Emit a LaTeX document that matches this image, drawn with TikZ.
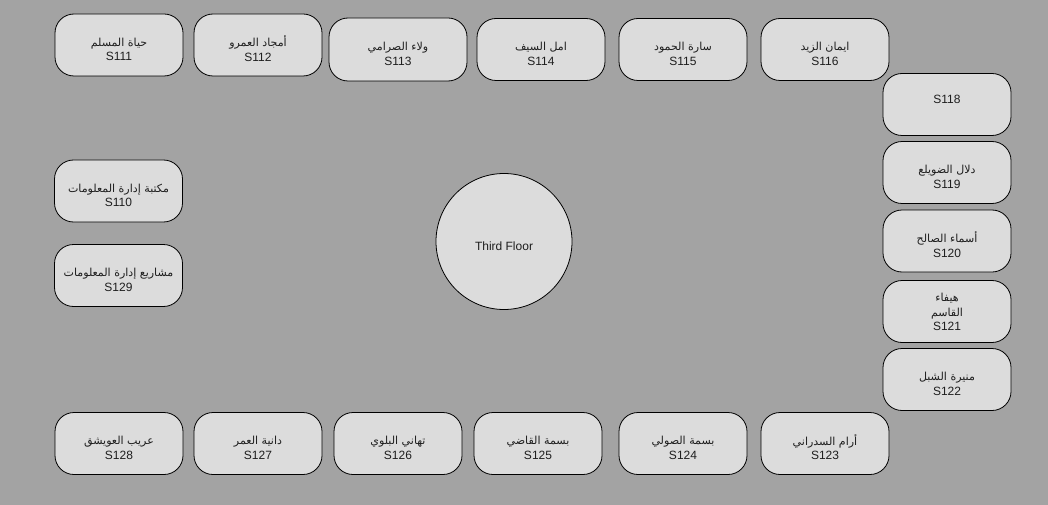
\documentclass[tikz,border=0pt]{standalone}
\usepackage{fontspec}
\setmainfont{Liberation Sans}
\newfontfamily\arabicfont[Script=Arabic,Scale=0.92]{DejaVu Sans}
\TeXXeTstate=1
\definecolor{bgcol}{RGB}{163,163,163}
\definecolor{roomfill}{RGB}{220,220,220}
\definecolor{txtcol}{RGB}{30,30,30}
\newcommand\ar[1]{{\arabicfont\beginR #1\endR}}
\newcommand\shifted[2]{\raisebox{#1}[\height][\depth]{\begin{tabular}{@{}c@{}}#2\end{tabular}}}
\newcommand\roomtxt[2]{\shifted{-5.5pt}{\ar{#1}\\#2}}
\tikzset{
  room/.style={draw=black, line width=0.8pt, fill=roomfill, rounded corners=19pt,
    minimum width=128pt, minimum height=62pt, inner sep=0pt, align=center,
    text=txtcol, font=\fontsize{12}{14.5}\selectfont},
  widebox/.style={room, minimum width=138pt, minimum height=63pt},
  hall/.style={draw=black, line width=0.8pt, fill=roomfill, circle,
    minimum size=136pt, inner sep=0pt, text=txtcol, font=\fontsize{12}{14}\selectfont}
}
\begin{document}
\begin{tikzpicture}[x=1pt,y=-1pt]
\fill[bgcol] (0,0) rectangle (1048,505);
\useasboundingbox (0,0) rectangle (1048,505);
% top row
\node[room] (s111) at (119,45) {\roomtxt{حياة المسلم}{S111}};
\node[room] (s112) at (258,45) {\roomtxt{أمجاد العمرو}{S112}};
\node[widebox] (s113) at (398,49.5) {\roomtxt{ولاء الصرامي}{S113}};
\node[room] (s114) at (541,49.5) {\roomtxt{امل السيف}{S114}};
\node[room] (s115) at (683,49.5) {\roomtxt{سارة الحمود}{S115}};
\node[room] (s116) at (825,49.5) {\roomtxt{ايمان الزيد}{S116}};
% right column
\node[room] (s118) at (947,104.5) {\shifted{4pt}{S118}};
\node[room] (s119) at (947,172.5) {\roomtxt{دلال الضويلع}{S119}};
\node[room] (s120) at (947,241) {\roomtxt{أسماء الصالح}{S120}};
\node[room] (s121) at (947,311.5) {\shifted{-2pt}{\ar{هيفاء}\\\ar{القاسم}\\S121}};
\node[room] (s122) at (947,379.5) {\roomtxt{منيرة الشبل}{S122}};
% bottom row
\node[room] (s123) at (825,443.5) {\roomtxt{أرام السدراني}{S123}};
\node[room] (s124) at (683,443.5) {\roomtxt{بسمة الصولي}{S124}};
\node[room] (s125) at (538,443.5) {\roomtxt{بسمة القاضي}{S125}};
\node[room] (s126) at (398,443.5) {\roomtxt{تهاني البلوي}{S126}};
\node[room] (s127) at (258,443.5) {\roomtxt{دانية العمر}{S127}};
\node[room] (s128) at (119,443.5) {\roomtxt{عريب العويشق}{S128}};
% left column
\node[room] (s110) at (118.5,191) {\roomtxt{مكتبة إدارة المعلومات}{S110}};
\node[room] (s129) at (118.5,275.5) {\roomtxt{مشاريع إدارة المعلومات}{S129}};
% centre
\node[hall] (floor) at (504,241.5) {\shifted{-6pt}{Third Floor}};
\end{tikzpicture}
\end{document}
